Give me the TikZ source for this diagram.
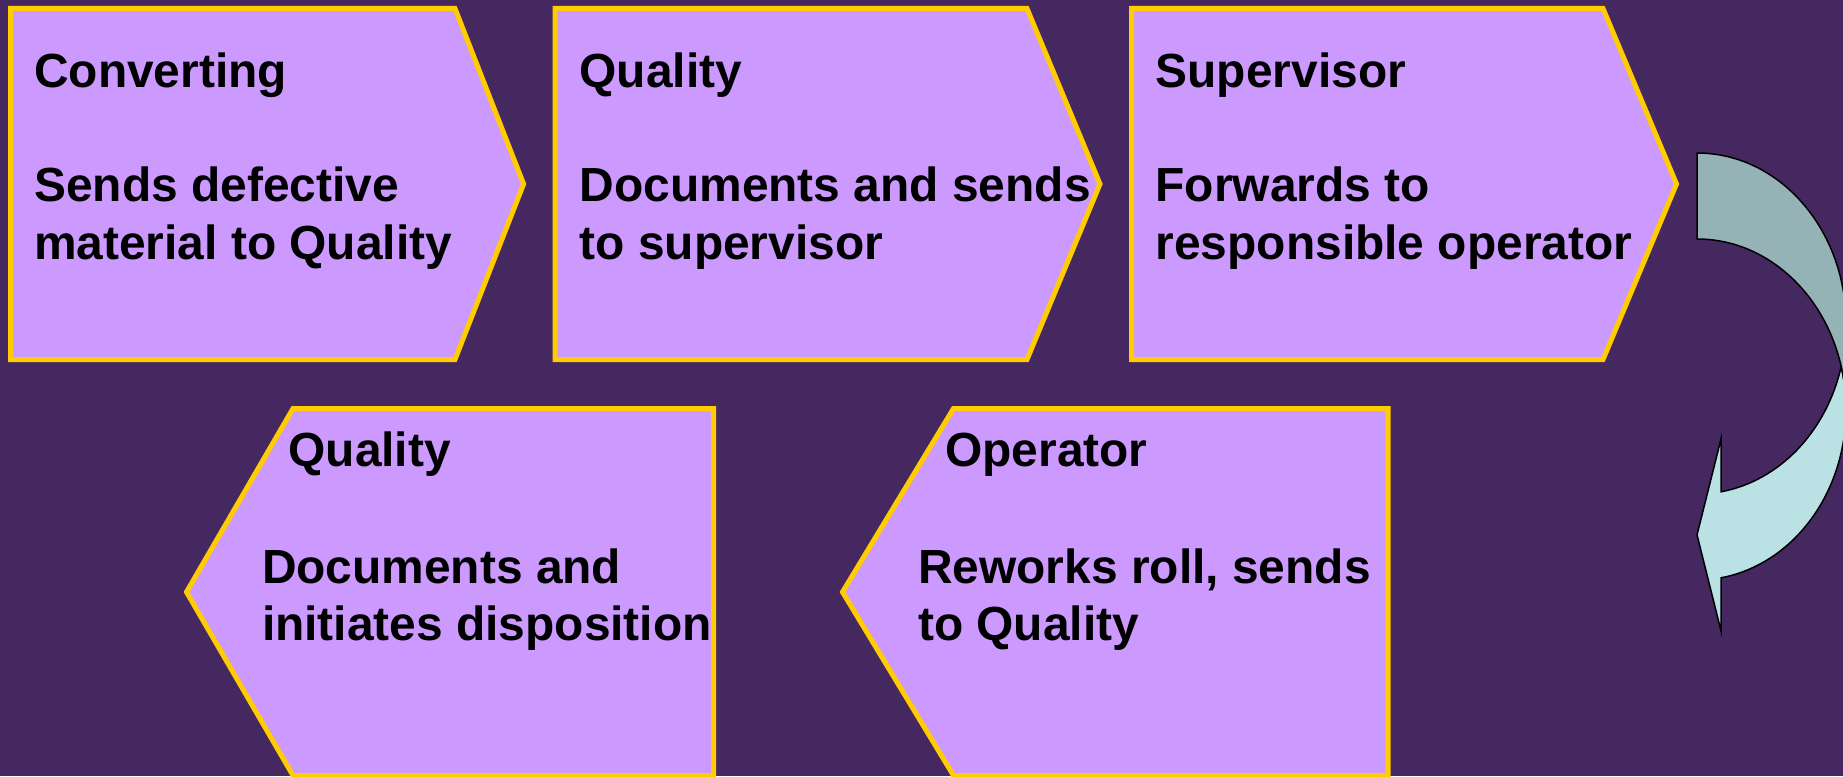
\documentclass[tikz,border=0pt]{standalone}
\usepackage{fontspec}
\setmainfont{Liberation Sans}
\definecolor{bgpurple}{HTML}{45285F}
\definecolor{boxfill}{HTML}{CC99FF}
\definecolor{boxedge}{HTML}{FFCC00}
\definecolor{bandback}{HTML}{95B3B6}
\definecolor{bandfront}{HTML}{BAE1E4}
% two stacked lines whose baseline is the first line's baseline
\newcommand\twolines[2]{\vtop{\hbox{#1}\hbox{#2}}}
\begin{document}
\begin{tikzpicture}[x=1pt,y=-1pt,
  chevron/.style={fill=boxfill, draw=boxedge, line width=5pt, line join=miter},
  band/.style={draw=black, line width=1.5pt, line join=miter},
  txt/.style={anchor=base west, inner sep=0pt, text=black,
    font=\fontsize{47.9}{57.5}\selectfont\bfseries}]
\useasboundingbox (0,0) rectangle (1843,776);
\fill[bgpurple] (0,0) rectangle (1843,776);

% upper row: chevrons pointing right
\draw[chevron] (10.7,8.5) -- (455,8.5) -- (523.6,184) -- (455,359.5) -- (10.7,359.5) -- cycle;
\draw[chevron] (555,8.5) -- (1027,8.5) -- (1100,184) -- (1027,359.5) -- (555,359.5) -- cycle;
\draw[chevron] (1131.7,8.5) -- (1603,8.5) -- (1676.5,184) -- (1603,359.5) -- (1131.7,359.5) -- cycle;

% lower row: chevrons pointing left
\draw[chevron] (186.5,592) -- (293,408.5) -- (713.6,408.5) -- (713.6,775.5) -- (293,775.5) -- cycle;
\draw[chevron] (842.5,592) -- (953.5,408.5) -- (1388,408.5) -- (1388,775.5) -- (953.5,775.5) -- cycle;

% curved return arrow: front band with head, then back band on top
\coordinate (tip) at (1697,534.8);
\coordinate (barbA) at (1721,438.8);
\coordinate (barbB) at (1721,630.8);
\coordinate (shaftIn) at (1721,491.8);
\coordinate (backTop) at (1697,153);
\draw[band, fill=bandfront] (tip) -- (barbA) -- (shaftIn)
  arc[start angle=80.73, end angle=14.61, x radius=149, y radius=170.5]
  arc[start angle=-14.61, end angle=80.73, x radius=149, y radius=170.5]
  -- (barbB) -- cycle;
\draw[band, fill=bandback] (backTop)
  arc[start angle=-90, end angle=0, x radius=149, y radius=170.5]
  -- ++(0,86)
  arc[start angle=0, end angle=-90, x radius=149, y radius=170.5]
  -- cycle;

% texts
\node[txt] (t1) at (34,87.3) {Converting};
\node[txt] (b1) at (34,201.7) {\twolines{Sends defective}{material to Quality}};
\node[txt] (t2) at (579.5,87.3) {Quality};
\node[txt] (b2) at (579.5,201.7) {\twolines{Documents and sends}{to supervisor}};
\node[txt] (t3) at (1155.5,87.3) {Supervisor};
\node[txt] (b3) at (1155.5,201.7) {\twolines{Forwards to}{responsible operator}};
\node[txt] (t4) at (288.3,466.5) {Quality};
\node[txt] (b4) at (261.8,583) {\twolines{Documents and}{initiates disposition}};
\node[txt] (t5) at (945,466.5) {Operator};
\node[txt] (b5) at (918,583) {\twolines{Reworks roll, sends}{to Quality}};
\end{tikzpicture}
\end{document}
